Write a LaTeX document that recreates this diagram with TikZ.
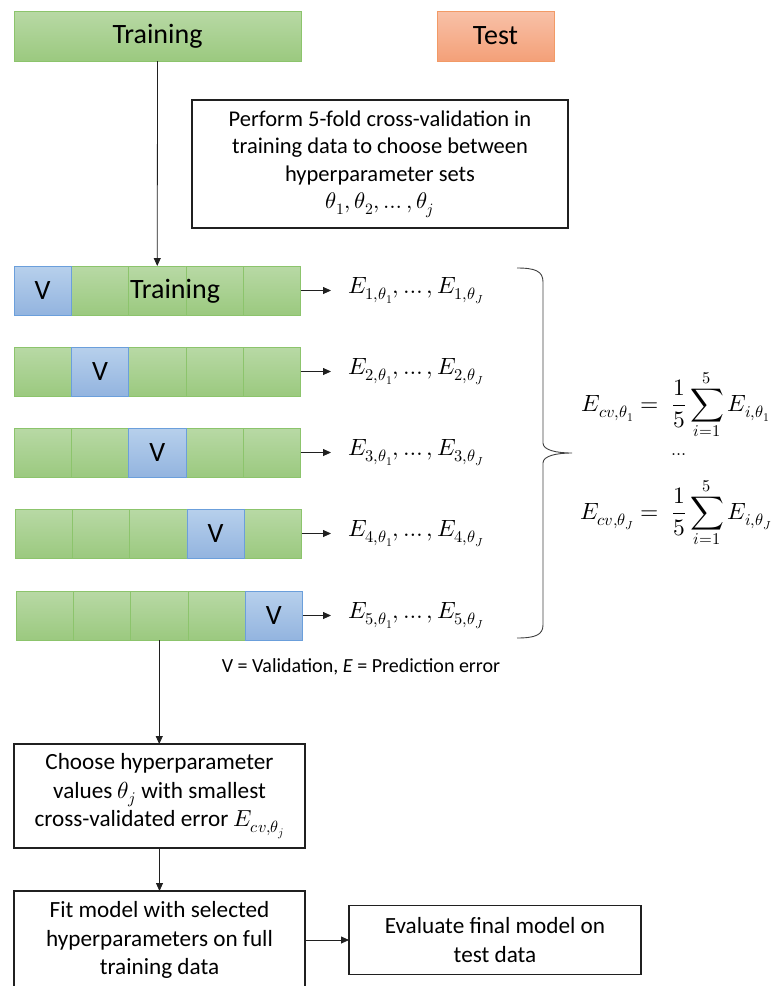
\documentclass[tikz,border=0pt]{standalone}
\usepackage{fontspec}
\usepackage{unicode-math}
\setmainfont{Carlito}
\setmathfont{Latin Modern Math}
\usetikzlibrary{arrows.meta}
\definecolor{gtop}{HTML}{B8D9A5}
\definecolor{gbot}{HTML}{9BC97F}
\definecolor{gline}{HTML}{8CC46C}
\definecolor{btop}{HTML}{B7D0EC}
\definecolor{bbot}{HTML}{93B4DF}
\definecolor{bline}{HTML}{6B9FDB}
\definecolor{otop}{HTML}{F8C1A8}
\definecolor{obot}{HTML}{F4A078}
\definecolor{oline}{HTML}{F29A66}
\definecolor{ink}{HTML}{202020}
\tikzset{
  x=1pt, y=-1pt,
  bigtext/.style={font=\fontsize{28}{34}\selectfont},
  midtext/.style={font=\fontsize{22.5}{27.5}\selectfont},
  lowtext/.style={font=\fontsize{23.2}{28.5}\selectfont},
  mathtext/.style={font=\fontsize{23.5}{28}\selectfont},
  smalltext/.style={font=\fontsize{20}{24}\selectfont},
  greencell/.style={draw=gline, line width=0.8pt, top color=gtop, bottom color=gbot,
    minimum width=57.3pt, minimum height=49pt, inner sep=0pt, outer sep=0pt},
  bluecell/.style={greencell, draw=bline, top color=btop, bottom color=bbot, bigtext},
  greenbox/.style={draw=gline, line width=0.8pt, top color=gtop, bottom color=gbot,
    minimum height=50pt, inner sep=0pt, outer sep=0pt, bigtext},
  orangebox/.style={greenbox, draw=oline, top color=otop, bottom color=obot},
  blackbox/.style={draw=ink, line width=1.4pt, align=center, inner sep=0pt, outer sep=0pt, lowtext},
  conn/.style={draw=ink, line width=0.8pt},
  arr/.style={conn, -{Triangle[length=8pt,width=7pt]}},
}
\begin{document}
\begin{tikzpicture}
\useasboundingbox (0,0) rectangle (782,986);

% top boxes
\node[greenbox, minimum width=287pt] (train) at (157.5,36) {Training};
\node[orangebox, minimum width=117pt] (test) at (495.5,36) {Test};

% perform box
\node[blackbox, midtext, minimum width=376pt, minimum height=128pt] (perform) at (380,164)
  {Perform 5-fold cross-validation in\\ training data to choose between\\ hyperparameter sets\\ $\theta_1, \theta_2, \ldots, \theta_j$};

% folds
\foreach \r/\x/\y in {1/14/290.5, 2/14/371.5, 3/14/452.5, 4/15/533.5, 5/16/615.5} {
  \foreach \c in {1,...,5} {
    \ifnum\c=\r\else
      \node[greencell] (r\r-\c) at ({\x+(\c-0.5)*57.3}, \y) {};
    \fi
  }
  \node[bluecell] (r\r-\r) at ({\x+(\r-0.5)*57.3}, \y) {V};
  \node[mathtext, anchor=west, inner sep=0pt] (e\r) at (348, \y)
    {$E_{\r,\theta_1}, \ldots , E_{\r,\theta_J}$};
  \draw[arr, shorten >=17pt] (r\r-5.east) -- (e\r.west);
}
\node[bigtext] (rowtrain) at (175,291) {Training};

\draw[arr] (train.south) -- (r1-3.north);

% brace
\draw[line width=0.9pt, draw=black!75] (517,268) .. controls (535,268) and (543,271) .. (543,282)
  -- (543,443) .. controls (543,450) and (556,453) .. (572,453)
  .. controls (556,453) and (543,456) .. (543,463)
  -- (543,625) .. controls (543,635) and (535,638) .. (517,638);

% formulas
\node[mathtext] (f1) at (676,405) {$\displaystyle E_{cv,\theta_1} = \;\frac{1}{5}\sum_{i=1}^{5} E_{i,\theta_1}$};
\node[mathtext, font=\fontsize{18}{20}\selectfont] (fdots) at (679,455) {$\ldots$};
\node[mathtext] (f2) at (676,513) {$\displaystyle E_{cv,\theta_J} = \;\frac{1}{5}\sum_{i=1}^{5} E_{i,\theta_J}$};

% legend
\node[smalltext] (legend) at (361,667) {V = Validation, \textit{E} = Prediction error};

% bottom boxes
\node[blackbox, minimum width=291pt, minimum height=104pt] (choose) at (159.5,796)
  {Choose hyperparameter\\ values $\theta_j$ with smallest\\ cross-validated error $E_{cv,\theta_j}$};
\node[blackbox, minimum width=291pt, minimum height=98pt] (fit) at (159.5,940)
  {Fit model with selected\\ hyperparameters on full\\ training data};
\node[blackbox, minimum width=292pt, minimum height=69pt] (eval) at (495,940)
  {Evaluate final model on\\ test data};

\draw[arr] (r5-3.south) -- (r5-3.south |- choose.north);
\draw[arr] (choose.south) -- (fit.north);
\draw[arr] (fit.east) -- (eval.west);
\end{tikzpicture}
\end{document}
